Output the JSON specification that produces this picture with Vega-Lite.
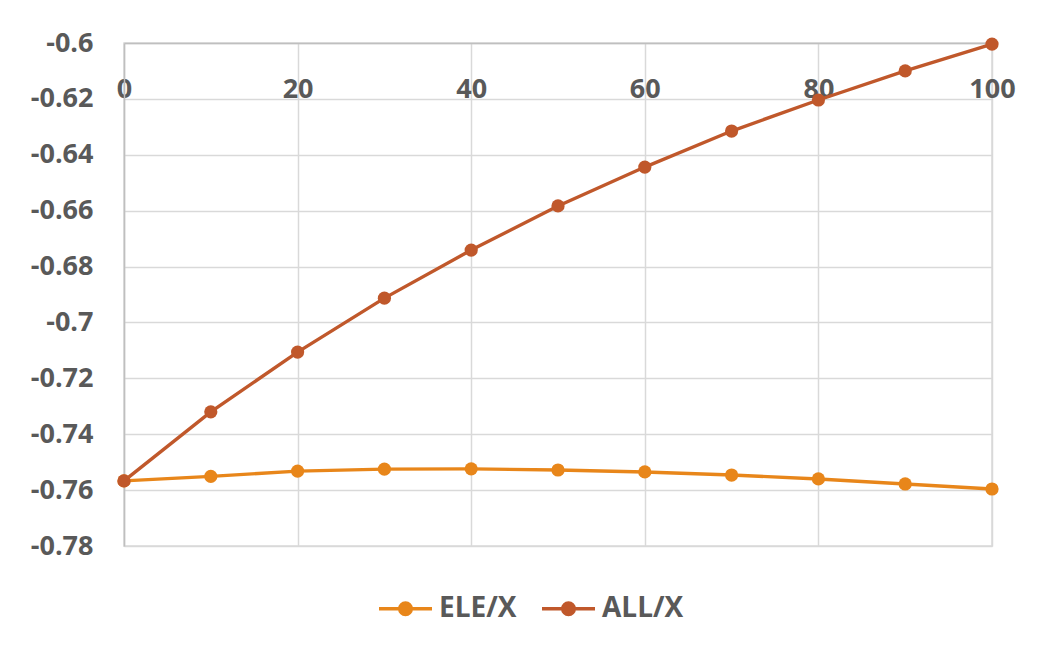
{
  "$schema": "https://vega.github.io/schema/vega-lite/v6.json",
  "width": 868,
  "height": 503,
  "autosize": "none",
  "padding": {"left": 124, "top": 43, "right": 48, "bottom": 102},
  "background": "white",
  "config": {
    "font": "Open Sans",
    "view": {"stroke": "#D9D9D9", "strokeWidth": 1.5},
    "axis": {
      "labelFont": "Open Sans",
      "labelFontSize": 27,
      "labelFontWeight": "bold",
      "labelColor": "#595959",
      "gridColor": "#D9D9D9",
      "gridWidth": 1.5,
      "ticks": false,
      "title": null
    },
    "legend": {
      "labelFont": "Open Sans",
      "labelFontSize": 28,
      "labelFontWeight": "bold",
      "labelColor": "#595959"
    }
  },
  "data": {
    "values": [
      {"x": 0, "series": "ELE/X", "value": -0.7567},
      {"x": 10, "series": "ELE/X", "value": -0.7551},
      {"x": 20, "series": "ELE/X", "value": -0.7532},
      {"x": 30, "series": "ELE/X", "value": -0.7525},
      {"x": 40, "series": "ELE/X", "value": -0.7524},
      {"x": 50, "series": "ELE/X", "value": -0.7528},
      {"x": 60, "series": "ELE/X", "value": -0.7535},
      {"x": 70, "series": "ELE/X", "value": -0.7546},
      {"x": 80, "series": "ELE/X", "value": -0.7560},
      {"x": 90, "series": "ELE/X", "value": -0.7578},
      {"x": 100, "series": "ELE/X", "value": -0.7596},
      {"x": 0, "series": "ALL/X", "value": -0.7567},
      {"x": 10, "series": "ALL/X", "value": -0.7320},
      {"x": 20, "series": "ALL/X", "value": -0.7106},
      {"x": 30, "series": "ALL/X", "value": -0.6913},
      {"x": 40, "series": "ALL/X", "value": -0.6741},
      {"x": 50, "series": "ALL/X", "value": -0.6583},
      {"x": 60, "series": "ALL/X", "value": -0.6444},
      {"x": 70, "series": "ALL/X", "value": -0.6315},
      {"x": 80, "series": "ALL/X", "value": -0.6204},
      {"x": 90, "series": "ALL/X", "value": -0.6100},
      {"x": 100, "series": "ALL/X", "value": -0.6004}
    ]
  },
  "mark": {
    "type": "line",
    "strokeWidth": 3.4,
    "point": {"filled": true, "size": 175, "opacity": 1}
  },
  "encoding": {
    "x": {
      "field": "x",
      "type": "quantitative",
      "scale": {"domain": [0, 100], "nice": false, "zero": false},
      "axis": {
        "orient": "top",
        "values": [0, 20, 40, 60, 80, 100],
        "domainColor": "#BFBFBF",
        "domainWidth": 1.5,
        "labelBaseline": "alphabetic",
        "labelPadding": -54,
        "labelFlush": false,
        "labelOverlap": false
      }
    },
    "y": {
      "field": "value",
      "type": "quantitative",
      "scale": {"domain": [-0.78, -0.6], "nice": false, "zero": false},
      "axis": {
        "values": [-0.78, -0.76, -0.74, -0.72, -0.7, -0.68, -0.66, -0.64, -0.62, -0.6],
        "labelExpr": "replace(format(datum.value, '.2~f'), '\u2212', '-')",
        "domainColor": "#BFBFBF",
        "domainWidth": 1.5,
        "labelPadding": 31,
        "labelFlush": false,
        "labelOverlap": false
      }
    },
    "color": {
      "field": "series",
      "type": "nominal",
      "sort": ["ELE/X", "ALL/X"],
      "scale": {"domain": ["ELE/X", "ALL/X"], "range": ["#E8861A", "#C0582B"]},
      "legend": {
        "title": null,
        "orient": "none",
        "legendX": 253,
        "legendY": 537,
        "direction": "horizontal",
        "symbolType": "M-1,0H1M0.22,0A0.22,0.22 0 1,1 -0.22,0A0.22,0.22 0 1,1 0.22,0Z",
        "symbolSize": 2809,
        "symbolStrokeWidth": 3.4,
        "labelOffset": 5,
        "columnPadding": 18,
        "encode": {
          "symbols": {"update": {"fill": {"scale": "color", "field": "value"}, "opacity": {"value": 1}}}
        }
      }
    },
    "order": {"field": "x"}
  }
}
